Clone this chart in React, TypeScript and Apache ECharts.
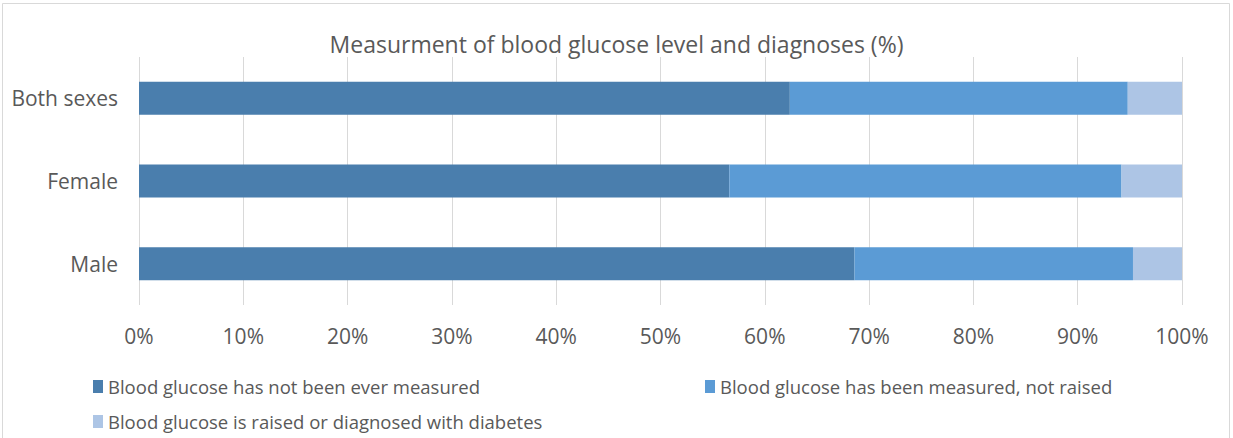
import React, { useEffect, useRef } from "react";
import * as echarts from "echarts";

const categories = ["Male", "Female", "Both sexes"];
const notMeasured = [68.6, 56.6, 62.4];
const measuredNotRaised = [26.7, 37.6, 32.4];
const raisedOrDiagnosed = [4.7, 5.8, 5.2];
const seriesNames = [
  "Blood glucose has not been ever measured",
  "Blood glucose has been measured, not raised",
  "Blood glucose is raised or diagnosed with diabetes",
];
const colors = ["#4A7EAD", "#5B9BD5", "#ADC5E5"];
const xTicks = [0, 10, 20, 30, 40, 50, 60, 70, 80, 90, 100];

const FONT = "Open Sans";

export default function App() {
  const ref = useRef<HTMLDivElement>(null);
  useEffect(() => {
    const chart = echarts.init(ref.current!, null, { renderer: "svg" });
    const values = [notMeasured, measuredNotRaised, raisedOrDiagnosed];
    const legendPos = [
      { left: 88, top: 372 },
      { left: 700, top: 372 },
      { left: 88, top: 407 },
    ];
    chart.setOption({
      animation: false,
      backgroundColor: "#fff",
      textStyle: { fontFamily: FONT },
      title: {
        text: "Measurment of blood glucose level and diagnoses (%)",
        left: "center",
        top: 27,
        textStyle: { fontFamily: FONT, fontSize: 23, fontWeight: "normal", color: "#595959" },
      },
      graphic: [
        {
          type: "rect",
          shape: { x: 2.5, y: 3.5, width: 1227, height: 440 },
          style: { fill: "none", stroke: "#d9d9d9", lineWidth: 1 },
          silent: true,
        },
      ],
      legend: legendPos.map((p, i) => ({
        ...p,
        data: [seriesNames[i]],
        itemWidth: 10,
        itemHeight: 13,
        itemGap: 6,
        icon: "rect",
        textStyle: { fontFamily: FONT, fontSize: 18.5, color: "#595959" },
        selectedMode: false,
      })),
      grid: { left: 139, right: 51, top: 57, bottom: 133 },
      xAxis: {
        type: "value",
        min: xTicks[0],
        max: xTicks[xTicks.length - 1],
        interval: 10,
        axisLine: { show: false },
        axisTick: { show: false },
        splitLine: { lineStyle: { color: "#d9d9d9", width: 1 } },
        axisLabel: {
          formatter: (v: number) => v + "%",
          fontFamily: FONT,
          fontSize: 21,
          color: "#595959",
          margin: 20,
        },
      },
      yAxis: {
        type: "category",
        data: categories,
        axisLine: { show: false },
        axisTick: { show: false },
        axisLabel: { fontFamily: FONT, fontSize: 21, color: "#595959", margin: 21 },
      },
      series: values.map((d, i) => ({
        type: "bar",
        name: seriesNames[i],
        stack: "total",
        data: d,
        barWidth: "40%",
        itemStyle: { color: colors[i] },
      })),
    });
    return () => chart.dispose();
  }, []);
  return <div ref={ref} style={{ width: 1233, height: 438, position: "absolute", left: 0, top: 0 }} />;
}
